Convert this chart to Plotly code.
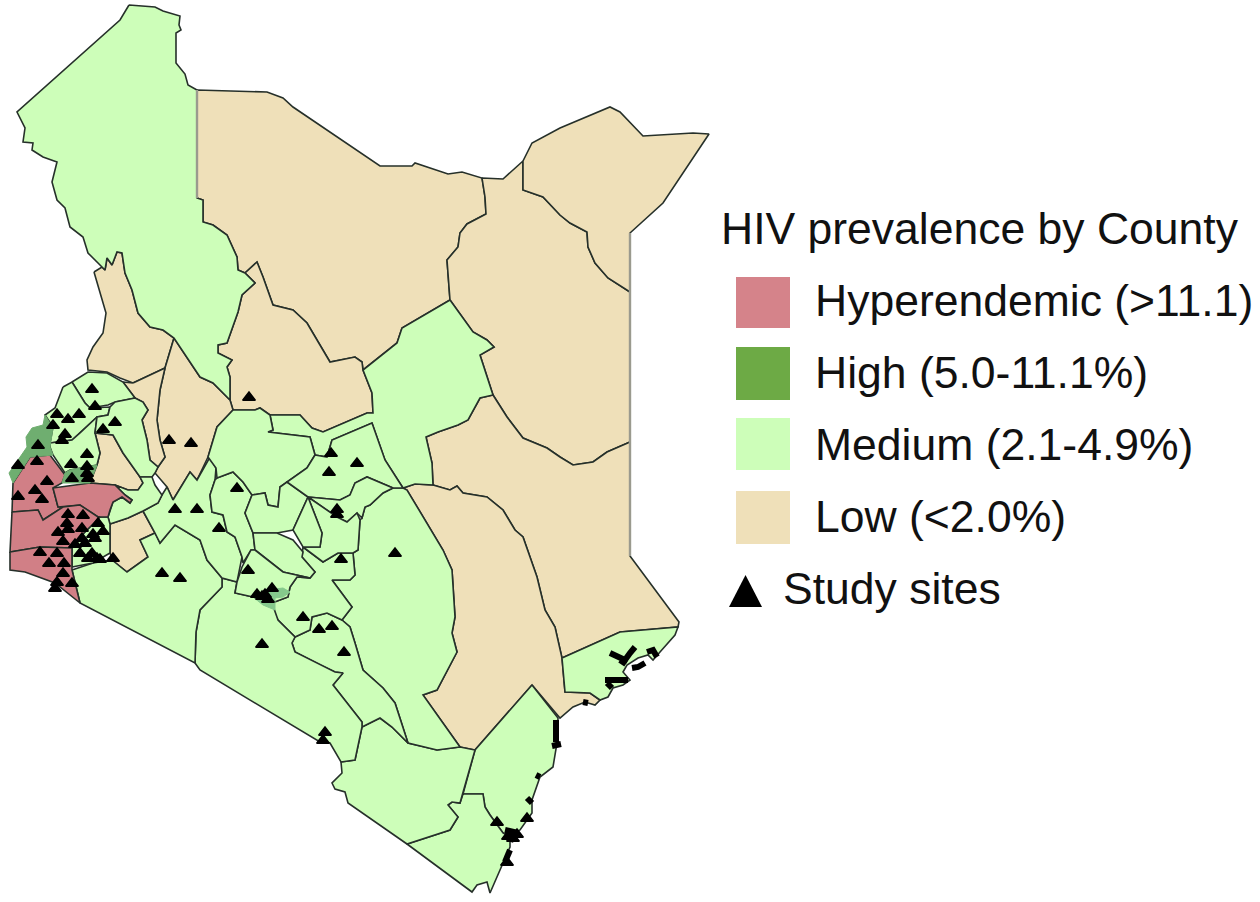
import plotly.graph_objects as go

# ---------- county outlines (x, y in picture pixels) ----------
TURKANA = [(129,5),(155,7),(163,11),(180,16),(179,25),(181,30),(176,33),(176,63),(185,74),(188,85),(197,90),(197,198),(203,200),(203,222),(213,225),(227,235),(237,257),(238,270),(245,273),(255,283),(242,295),(238,312),(227,343),(218,345),(218,353),(232,360),(227,367),(230,377),(230,400),(213,383),(200,377),(174,338),(163,330),(150,327),(138,313),(132,290),(125,273),(122,253),(117,252),(112,265),(107,258),(105,270),(102,267),(88,253),(83,237),(70,227),(65,208),(57,200),(52,182),(57,162),(43,157),(32,150),(33,143),(23,142),(25,128),(17,112),(120,20)]
MARSABIT = [(197,90),(267,92),(283,98),(293,107),(380,166),(412,166),(415,163),(427,167),(448,174),(462,172),(482,178),(485,197),(486,214),(467,224),(460,233),(458,247),(447,260),(450,300),(402,328),(397,343),(363,370),(362,362),(355,357),(330,362),(307,323),(293,310),(273,305),(263,277),(257,262),(245,273),(238,270),(237,257),(227,235),(213,225),(203,222),(203,200),(197,198)]
SAMBURU = [(230,400),(230,377),(227,367),(232,360),(218,353),(218,345),(227,343),(238,312),(242,295),(255,283),(245,273),(257,262),(263,277),(273,305),(293,310),(307,323),(330,362),(355,357),(362,362),(363,370),(372,393),(373,413),(367,413),(343,423),(323,432),(312,428),(300,415),(270,415),(260,408),(255,410),(233,410)]
WAJIR = [(482,178),(503,179),(523,161),(523,190),(543,197),(560,215),(570,223),(587,232),(588,247),(595,263),(608,278),(630,292),(630,442),(607,452),(593,462),(573,465),(560,457),(547,448),(523,438),(507,417),(493,395),(480,355),(494,347),(487,340),(473,332),(450,300),(447,260),(458,247),(460,233),(467,224),(486,214),(485,197)]
MANDERA = [(523,161),(532,143),(560,128),(610,107),(620,112),(643,136),(693,133),(709,134),(663,203),(630,233),(630,292),(608,278),(595,263),(588,247),(587,232),(570,223),(560,215),(543,197),(523,190)]
ISIOLO = [(450,300),(473,332),(487,340),(494,347),(480,355),(493,395),(480,398),(468,420),(458,425),(438,432),(426,437),(432,463),(433,485),(415,484),(403,488),(385,460),(372,423),(332,440),(327,457),(315,455),(310,437),(268,432),(273,430),(270,415),(300,415),(312,428),(323,432),(343,423),(367,413),(373,413),(372,393),(363,370),(397,343),(402,328)]
GARISSA = [(630,442),(630,556),(679,622),(678,627),(620,632),(562,658),(555,627),(545,610),(537,577),(523,537),(515,530),(503,510),(487,497),(463,493),(457,486),(450,490),(433,485),(432,463),(426,437),(438,432),(458,425),(468,420),(480,398),(493,395),(507,417),(523,438),(547,448),(560,457),(573,465),(593,462),(607,452)]
TANA_RIVER = [(403,488),(415,484),(433,485),(450,490),(457,486),(463,493),(487,497),(503,510),(515,530),(523,537),(537,577),(545,610),(555,627),(562,658),(565,692),(590,693),(600,700),(595,705),(585,702),(573,707),(560,718),(532,685),(475,750),(460,747),(423,695),(437,690),(457,652),(452,633),(455,617),(452,570),(443,550),(407,490)]
LAMU = [(562,658),(620,632),(678,627),(675,635),(660,652),(653,660),(648,655),(638,658),(627,665),(623,672),(630,680),(623,685),(613,688),(608,697),(600,700),(590,693),(565,692)]
KILIFI = [(532,685),(558,718),(557,743),(553,767),(540,777),(532,800),(532,813),(520,830),(510,837),(503,833),(490,815),(485,807),(483,794),(463,794),(475,750)]
KWALE = [(463,794),(483,794),(485,807),(490,815),(503,833),(510,837),(510,847),(503,863),(495,880),(490,893),(487,882),(477,885),(472,892),(407,844),(450,830),(458,817),(448,805),(452,802),(460,803)]
TAITA_TAVETA = [(341,762),(355,760),(362,727),(380,718),(392,727),(408,743),(437,750),(460,747),(475,750),(463,794),(460,803),(452,802),(448,805),(458,817),(450,830),(407,844),(348,803),(345,792),(335,789),(332,783),(342,773)]
KITUI = [(393,488),(403,488),(407,490),(443,550),(452,570),(455,617),(452,633),(457,652),(437,690),(423,695),(460,747),(437,750),(408,743),(395,703),(383,688),(363,670),(355,643),(350,627),(342,620),(352,607),(332,580),(350,580),(355,575),(353,553),(358,550),(360,520),(362,518),(365,507),(370,505),(383,493)]
MAKUENI = [(342,620),(350,627),(355,643),(363,670),(383,688),(395,703),(408,743),(392,727),(380,718),(362,727),(362,722),(333,685),(343,673),(335,672),(320,665),(295,652),(292,643),(295,637),(310,630),(312,617),(327,613)]
MACHAKOS = [(303,547),(323,562),(338,553),(353,553),(355,575),(350,580),(332,580),(352,607),(342,620),(327,613),(312,617),(310,630),(295,637),(278,620),(270,607),(272,603),(288,597),(290,587),(297,577),(310,578),(315,572),(302,557)]
KAJIADO = [(195,663),(196,632),(200,610),(222,587),(222,578),(237,582),(235,593),(253,597),(272,603),(278,620),(295,637),(292,643),(295,652),(320,665),(335,672),(343,673),(333,685),(362,722),(362,727),(355,760),(341,762),(330,743),(320,742),(200,670)]
NAROK = [(72,570),(93,563),(112,560),(127,572),(148,557),(140,540),(155,533),(160,543),(175,525),(200,540),(207,560),(222,578),(222,587),(200,610),(196,632),(195,663),(80,603)]
NAKURU = [(143,511),(158,503),(162,495),(167,487),(173,500),(190,472),(197,480),(210,457),(216,468),(215,480),(210,495),(212,512),(223,515),(227,532),(235,537),(242,557),(237,582),(222,578),(207,560),(200,540),(175,525),(160,543),(155,533)]
NYANDARUA = [(217,478),(233,472),(243,482),(252,495),(245,513),(253,533),(255,550),(251,550),(243,563),(242,557),(235,537),(227,532),(223,515),(212,512),(210,495),(215,480)]
LAIKIPIA = [(233,410),(255,410),(260,408),(270,415),(273,430),(268,432),(310,437),(315,455),(307,468),(287,482),(280,487),(278,507),(268,505),(265,493),(252,495),(243,482),(233,472),(217,478),(216,468),(208,457),(217,427)]
NYERI = [(252,495),(265,493),(268,505),(278,507),(280,487),(287,482),(308,497),(293,530),(277,533),(253,533),(245,513)]
MERU = [(315,455),(327,457),(332,440),(372,423),(385,460),(403,488),(393,488),(367,477),(355,483),(350,495),(340,500),(308,497),(287,482),(307,468)]
THARAKA_NITHI = [(308,497),(340,500),(350,495),(355,483),(367,477),(393,488),(383,493),(370,505),(365,507),(362,518),(357,513),(347,522),(337,517)]
EMBU = [(308,497),(337,517),(347,522),(357,513),(360,520),(358,550),(353,553),(338,553),(323,562),(303,547),(320,547),(322,533)]
KIRINYAGA = [(308,497),(322,533),(320,547),(303,547),(293,530)]
MURANGA = [(253,533),(277,533),(293,540),(303,552),(302,557),(315,572),(310,578),(283,572),(255,550)]
KIAMBU = [(255,550),(283,572),(310,578),(297,577),(290,587),(288,597),(272,603),(253,597),(235,593),(237,582),(242,567),(251,550)]
NAIROBI = [(253,597),(267,590),(283,588),(290,592),(283,597),(275,598),(275,610),(263,605)]
WEST_POKOT = [(94,272),(102,267),(105,270),(107,258),(112,265),(117,252),(122,253),(125,273),(132,290),(138,313),(150,327),(163,330),(174,338),(165,368),(133,383),(120,378),(107,372),(88,370),(87,360),(93,347),(103,333),(106,313)]
BARINGO = [(174,338),(200,377),(213,383),(230,400),(233,410),(217,427),(208,457),(197,480),(190,472),(173,500),(167,487),(155,473),(158,467),(165,457),(160,440),(157,420),(160,390),(165,368)]
ELGEYO_MARAKWET = [(133,383),(165,368),(160,390),(157,420),(160,440),(165,457),(158,467),(150,460),(147,440),(142,420),(148,410),(143,402),(135,398),(123,382)]
TRANS_NZOIA = [(72,382),(88,372),(107,373),(123,382),(135,398),(115,402),(108,405),(90,408),(85,403)]
BUNGOMA = [(63,387),(72,382),(85,403),(90,408),(110,407),(108,415),(97,417),(80,433),(72,440),(50,443),(53,427),(45,415),(55,408)]
BUSIA = [(45,415),(53,428),(50,447),(53,455),(30,457),(23,468),(13,483),(9,473),(20,457),(27,447),(26,437),(32,428),(43,425)]
KAKAMEGA = [(50,443),(72,440),(80,433),(97,417),(95,433),(100,453),(97,465),(70,470),(65,473),(53,455),(50,447)]
VIHIGA = [(65,473),(70,470),(97,465),(90,483),(62,483)]
NANDI = [(95,433),(113,435),(123,453),(140,477),(143,483),(138,490),(128,490),(115,485),(90,483),(97,465),(100,453)]
UASIN_GISHU = [(115,402),(135,398),(143,402),(148,410),(142,420),(147,440),(150,460),(158,467),(155,473),(152,477),(140,477),(123,453),(113,435),(95,433),(97,417),(108,415),(110,407)]
KERICHO = [(115,485),(128,490),(138,490),(143,483),(140,477),(152,477),(155,485),(162,495),(158,503),(143,511),(128,518),(110,524),(108,517),(110,510),(113,502),(122,497),(130,503),(132,500),(125,495),(120,490)]
SIAYA = [(13,483),(23,468),(30,457),(50,455),(65,475),(62,483),(53,488),(58,507),(63,507),(43,520),(38,510),(12,512)]
KISUMU = [(53,488),(90,483),(115,485),(120,490),(125,495),(132,500),(130,503),(122,497),(113,502),(110,510),(108,517),(98,517),(80,505),(58,507)]
HOMA_BAY = [(12,512),(38,510),(43,520),(63,507),(80,505),(98,517),(100,517),(80,537),(72,548),(40,547),(10,552)]
KISII = [(72,567),(72,548),(80,537),(100,517),(108,517),(110,524),(110,553),(93,563)]
NYAMIRA_LOW = [(110,524),(128,518),(143,511),(155,533),(140,540),(148,557),(127,572),(112,560),(110,553)]
MIGORI = [(10,552),(40,547),(72,548),(72,570),(80,603),(55,583),(25,572),(10,570)]

COUNTIES_LOW = [MARSABIT, SAMBURU, WAJIR, MANDERA, GARISSA, TANA_RIVER, WEST_POKOT, BARINGO, ELGEYO_MARAKWET, NANDI, NYAMIRA_LOW]
COUNTIES_MEDIUM = [TURKANA, ISIOLO, LAMU, KILIFI, KWALE, TAITA_TAVETA, KITUI, MAKUENI, MACHAKOS, KAJIADO, NAROK, NAKURU,
                   NYANDARUA, LAIKIPIA, NYERI, MERU, THARAKA_NITHI, EMBU, KIRINYAGA, MURANGA, KIAMBU, TRANS_NZOIA,
                   BUNGOMA, KAKAMEGA, UASIN_GISHU, KERICHO, KISII]
COUNTIES_HIGH = [BUSIA, VIHIGA]
COUNTIES_HYPER = [SIAYA, KISUMU, HOMA_BAY, MIGORI]
PATCHES = [NAIROBI]

# thick black mangrove / coast strokes
MANGROVES = [
    [(610,653),(620,658),(625,660),(630,653),(635,647)], [(632,668),(638,667),(645,663)],
    [(605,680),(615,680),(628,680)], [(607,683),(612,688)], [(647,652),(653,650),(657,657)],
    [(620,660),(626,664)], [(556,720),(556,742)], [(552,746),(561,744)], [(540,777),(536,775)], [(527,798),(532,803)],
    [(505,830),(518,833)], [(508,838),(514,840)], [(510,850),(505,862)], [(583,702),(588,703)],
]
# soft grey straight borders
GREY_EDGES = [[(630,233),(630,556)], [(197,90),(197,198)]]

SITES_X = [92,95,57,68,79,53,65,62,115,103,38,87,18,37,71,87,87,88,72,47,35,42,18,169,191,175,197,219,237,162,180,
           68,83,67,58,68,63,82,98,103,95,82,75,85,93,80,88,97,113,40,57,49,64,63,57,72,55,100,92,
           249,331,357,329,337,337,395,341,248,272,257,262,268,265,303,319,332,344,262,325,323,497,527,508,513,517,507]
SITES_Y = [388,405,413,418,413,424,433,439,421,428,444,453,464,460,463,465,472,477,477,480,489,498,495,439,442,508,508,527,487,572,577,
           513,514,522,531,528,540,527,522,530,537,537,543,542,533,552,557,557,557,551,552,562,562,572,581,582,587,558,552,
           396,452,462,471,508,513,552,558,569,587,593,595,598,593,616,628,625,651,643,731,739,821,817,835,837,833,861]

CLASS_NAMES = ["Hyperendemic (>11.1)", "High (5.0-11.1%)", "Medium (2.1-4.9%)", "Low (<2.0%)"]
SITES_NAME = "Study sites"
LEGEND_TITLE = "HIV prevalence by County"

C_HYPER, C_HIGH, C_MED, C_LOW = "#D5838A", "#6DAA45", "#CDFEB9", "#EFE0B9"
MAP_HYPER, MAP_HIGH, MAP_PATCH = "#D17F86", "#6FAE70", "#85C98C"
EDGE = "#26302a"
FONT = "Liberation Sans"

fig = go.Figure()

def add_class(polys, color, name, edge=EDGE, width=1.6):
    for p in polys:
        xs = [a for a, _ in p] + [p[0][0]]
        ys = [b for _, b in p] + [p[0][1]]
        fig.add_trace(go.Scatter(x=xs, y=ys, mode="lines", fill="toself", fillcolor=color,
                                 line=dict(color=edge, width=width), name=name, hoverinfo="name",
                                 showlegend=False))

add_class(COUNTIES_LOW, C_LOW, CLASS_NAMES[3])
add_class(COUNTIES_MEDIUM, C_MED, CLASS_NAMES[2])
add_class(COUNTIES_HYPER, MAP_HYPER, CLASS_NAMES[0])
# High counties are drawn without a dark outline in the reference
add_class(COUNTIES_HIGH, MAP_HIGH, CLASS_NAMES[1], edge=MAP_HIGH, width=1)
add_class(PATCHES, MAP_PATCH, CLASS_NAMES[1], edge=MAP_PATCH, width=1)

for stroke in GREY_EDGES:
    fig.add_trace(go.Scatter(x=[a for a, _ in stroke], y=[b for _, b in stroke], mode="lines",
                             line=dict(color="#9a9a8e", width=2.4), hoverinfo="skip", showlegend=False))
for stroke in MANGROVES:
    fig.add_trace(go.Scatter(x=[a for a, _ in stroke], y=[b for _, b in stroke], mode="lines",
                             line=dict(color="black", width=6), hoverinfo="skip", showlegend=False))

# a triangle's visual middle sits above its anchor point
fig.add_trace(go.Scatter(x=SITES_X, y=[v + 1.5 for v in SITES_Y], mode="markers", name=SITES_NAME, hoverinfo="name",
                         showlegend=False,
                         marker=dict(symbol="triangle-up", size=11, color="black", line=dict(color="black", width=1.5))))

# legend, drawn to scale
shapes = []
SWATCHES = [(277,328,C_HYPER),(347,400,C_HIGH),(418,470,C_MED),(491,544,C_LOW)]
for y0, y1, c in SWATCHES:
    shapes.append(dict(type="rect", xref="x", yref="y", x0=736, x1=790, y0=y0, y1=y1, fillcolor=c, line=dict(width=0), layer="above"))
shapes.append(dict(type="path", xref="x", yref="y", path="M729,607 L762,607 L745.5,575 Z", fillcolor="black", line=dict(width=0), layer="above"))

FS = 44.5
anns = [dict(x=719, y=228, text=LEGEND_TITLE, xref="x", yref="y", xanchor="left", yanchor="middle", showarrow=False,
             font=dict(family=FONT, size=FS, color="#111"))]
for label, y in zip(CLASS_NAMES, [300, 372, 444, 516]):
    anns.append(dict(x=813, y=y, text=label, xref="x", yref="y", xanchor="left", yanchor="middle", showarrow=False,
                     font=dict(family=FONT, size=FS, color="#111")))
anns.append(dict(x=781, y=588, text=SITES_NAME, xref="x", yref="y", xanchor="left", yanchor="middle", showarrow=False,
                 font=dict(family=FONT, size=FS, color="#111")))

fig.update_layout(width=1260, height=902, margin=dict(l=0, r=0, t=0, b=0), paper_bgcolor="white", plot_bgcolor="white",
                  xaxis=dict(range=[0, 1260], visible=False, fixedrange=True),
                  yaxis=dict(range=[902, 0], visible=False, fixedrange=True),
                  shapes=shapes, annotations=anns, showlegend=False)

fig.write_html("out.html", config={"displayModeBar": False}, post_script="document.body.style.margin='0';")
